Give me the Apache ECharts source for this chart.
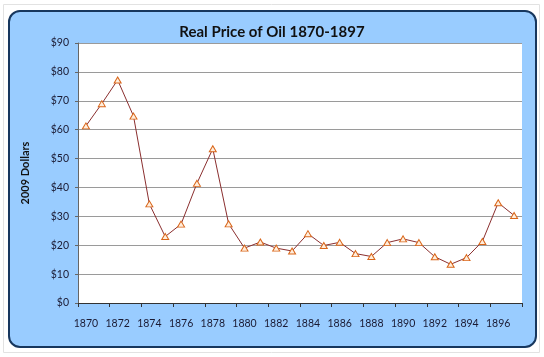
<!DOCTYPE html>
<html>
<head>
<meta charset="utf-8">
<script src="https://cdn.jsdelivr.net/npm/echarts@6/dist/echarts.min.js"></script>
<style>
html,body{margin:0;padding:0;background:#fff;}
#c{width:544px;height:357px;}
</style>
</head>
<body>
<div id="c"></div>
<script>
const years = ['1870','1871','1872','1873','1874','1875','1876','1877','1878','1879','1880','1881','1882','1883','1884','1885','1886','1887','1888','1889','1890','1891','1892','1893','1894','1895','1896','1897'];
const prices = [61.3, 69.0, 77.2, 64.7, 34.3, 23.0, 27.3, 41.4, 53.4, 27.4, 19.0, 21.1, 19.0, 18.0, 24.0, 19.9, 21.0, 17.1, 16.1, 20.9, 22.2, 20.9, 16.0, 13.4, 15.7, 21.3, 34.7, 30.3];
const yTicks = [0, 10, 20, 30, 40, 50, 60, 70, 80, 90];

const chart = echarts.init(document.getElementById('c'), null, {renderer:'canvas'});
chart.setOption({
  animation: false,
  backgroundColor: '#ffffff',
  graphic: [
    {type:'rect', z:-10, shape:{x:3.5, y:4.5, width:536, height:348}, style:{fill:'none', stroke:'#e2e2e2', lineWidth:1}, silent:true},
    {type:'rect', z:-5, shape:{x:9, y:11, width:527, height:336, r:11}, style:{fill:'#99ccff', stroke:'#17375e', lineWidth:2}, silent:true}
  ],
  title: {
    text: 'Real Price of Oil 1870-1897',
    left: 'center', top: 20,
    textStyle: {fontFamily:'Lato', fontWeight:'bold', fontSize:15, color:'#111'}
  },
  grid: {left:78, right:22, top:43, bottom:54, show:true, backgroundColor:'#ffffff', borderWidth:0},
  xAxis: {
    type: 'category',
    data: years,
    boundaryGap: true,
    axisLine: {show:true, lineStyle:{color:'#333', width:1}},
    axisTick: {show:true, interval:1, length:4, lineStyle:{color:'#333'}},
    axisLabel: {interval:1, margin:15, fontFamily:'Lato', fontSize:10.5, color:'#1a1a33'},
    splitLine: {show:false}
  },
  yAxis: {
    type: 'value',
    min: yTicks[0], max: yTicks[yTicks.length-1], interval: 10,
    name: '2009 Dollars',
    nameLocation: 'middle',
    nameGap: 47,
    nameTextStyle: {fontFamily:'Lato', fontWeight:'bold', fontSize:11, color:'#111'},
    axisLine: {show:true, lineStyle:{color:'#666', width:1}},
    axisTick: {show:true, length:3, lineStyle:{color:'#666'}},
    axisLabel: {formatter:'${value}', margin:9, fontFamily:'Lato', fontSize:10.5, color:'#1a1a33'},
    splitLine: {show:true, lineStyle:{color:'#9a9a9a', width:1}}
  },
  series: [{
    type: 'line',
    data: prices,
    symbol: 'triangle',
    symbolSize: [7, 6],
    showAllSymbol: true,
    lineStyle: {color:'#8b2f2f', width:1},
    itemStyle: {color:'#ffeedd', borderColor:'#d9661a', borderWidth:1},
    emphasis: {disabled:true}
  }]
});
</script>
</body>
</html>
